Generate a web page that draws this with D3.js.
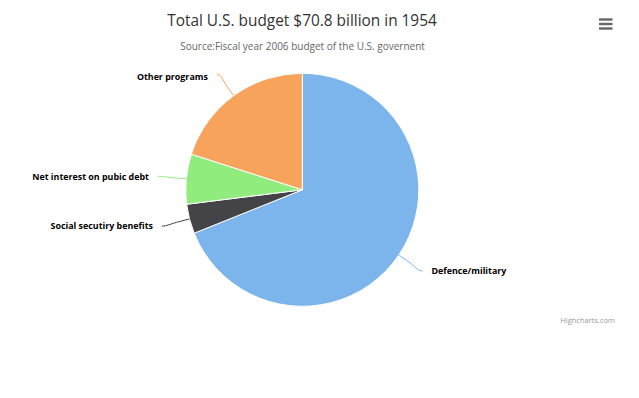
<!DOCTYPE html>
<html>
<head>
<meta charset="utf-8">
<script src="https://cdn.jsdelivr.net/npm/d3@7/dist/d3.min.js"></script>
<style>
  html, body { margin: 0; padding: 0; background: #fff; }
  svg { display: block; font-family: "Open Sans", sans-serif; }
</style>
</head>
<body>
<svg id="chart" width="639" height="398"></svg>
<script>
// ---- data ----
const titleText = "Total U.S. budget $70.8 billion in 1954";
const subtitleText = "Source:Fiscal year 2006 budget of the U.S. governent";
const categories = ["Defence/military", "Social secutiry benefits", "Net interest on pubic debt", "Other programs"];
const values = [48.8, 2.9, 4.9, 14.2];   // billions of dollars
const colors = ["#7cb5ec", "#434348", "#90ed7d", "#f7a35c"];

// ---- layout ----
const W = 639, H = 398;
const cx = 302.3, cy = 189.8, radius = 116.5;
const labelDist = 28.5;
const plotTop = 71;

const svg = d3.select("#chart");

svg.append("text")
  .attr("x", 302).attr("y", 25.5)
  .attr("text-anchor", "middle")
  .attr("fill", "#333333")
  .style("font-size", "15.4px")
  .text(titleText);

svg.append("text")
  .attr("x", 302.5).attr("y", 50)
  .attr("text-anchor", "middle")
  .attr("fill", "#666666")
  .style("font-size", "10px")
  .text(subtitleText);

const data = categories.map((c, i) => ({ name: c, value: values[i], color: colors[i] }));

const pie = d3.pie().sort(null).value(d => d.value).startAngle(0).endAngle(2 * Math.PI);
const arcs = pie(data);
const arc = d3.arc().innerRadius(0).outerRadius(radius);

const g = svg.append("g").attr("transform", `translate(${cx},${cy})`);

g.selectAll("path.slice")
  .data(arcs)
  .join("path")
  .attr("class", "slice")
  .attr("d", arc)
  .attr("fill", d => d.data.color)
  .attr("stroke", "#ffffff")
  .attr("stroke-width", 1)
  .attr("stroke-linejoin", "round");

function polar(a, r) { return [r * Math.sin(a), -r * Math.cos(a)]; }

const labels = g.selectAll("g.lbl").data(arcs).join("g").attr("class", "lbl");

labels.each(function(d) {
  const mid = (d.startAngle + d.endAngle) / 2;
  const right = Math.sin(mid) >= 0;
  const dir = right ? 1 : -1;
  const anchor = polar(mid, radius + labelDist);
  // keep labels inside the plot area (as Highcharts does)
  const minY = plotTop + 5.5 - cy;
  const ty = Math.max(anchor[1], minY);
  const ay = Math.max(anchor[1], minY - 2);
  const breakAt = polar(mid, radius + 10);
  const touch = polar(mid, radius);
  const sel = d3.select(this);
  const path = d3.path();
  path.moveTo(anchor[0], ay);
  path.bezierCurveTo(anchor[0] - dir * 5, ay,
                     2 * breakAt[0] - touch[0], 2 * breakAt[1] - touch[1],
                     breakAt[0], breakAt[1]);
  path.lineTo(touch[0], touch[1]);
  sel.append("path")
    .attr("d", path.toString())
    .attr("fill", "none")
    .attr("stroke", d.data.color)
    .attr("stroke-width", 1);
  const tx = anchor[0] + dir * 9;
  sel.append("text")
    .attr("x", tx).attr("y", ty)
    .attr("dy", "0.38em")
    .attr("text-anchor", right ? "start" : "end")
    .style("font-size", "8.9px")
    .style("font-weight", "bold")
    .attr("fill", "#000000")
    .attr("stroke", "#ffffff")
    .attr("stroke-width", 2)
    .attr("stroke-linejoin", "round")
    .style("paint-order", "stroke")
    .text(d.data.name);
});

// credits
svg.append("text")
  .attr("x", 615).attr("y", 323)
  .attr("text-anchor", "end")
  .attr("fill", "#999999")
  .style("font-size", "7.5px")
  .text("Highcharts.com");

// context menu icon
const menu = svg.append("g").attr("stroke", "#666666").attr("stroke-width", 2.4);
[19.5, 24, 28.5].forEach(y => {
  menu.append("line").attr("x1", 599).attr("x2", 612.5).attr("y1", y).attr("y2", y);
});
</script>
</body>
</html>
